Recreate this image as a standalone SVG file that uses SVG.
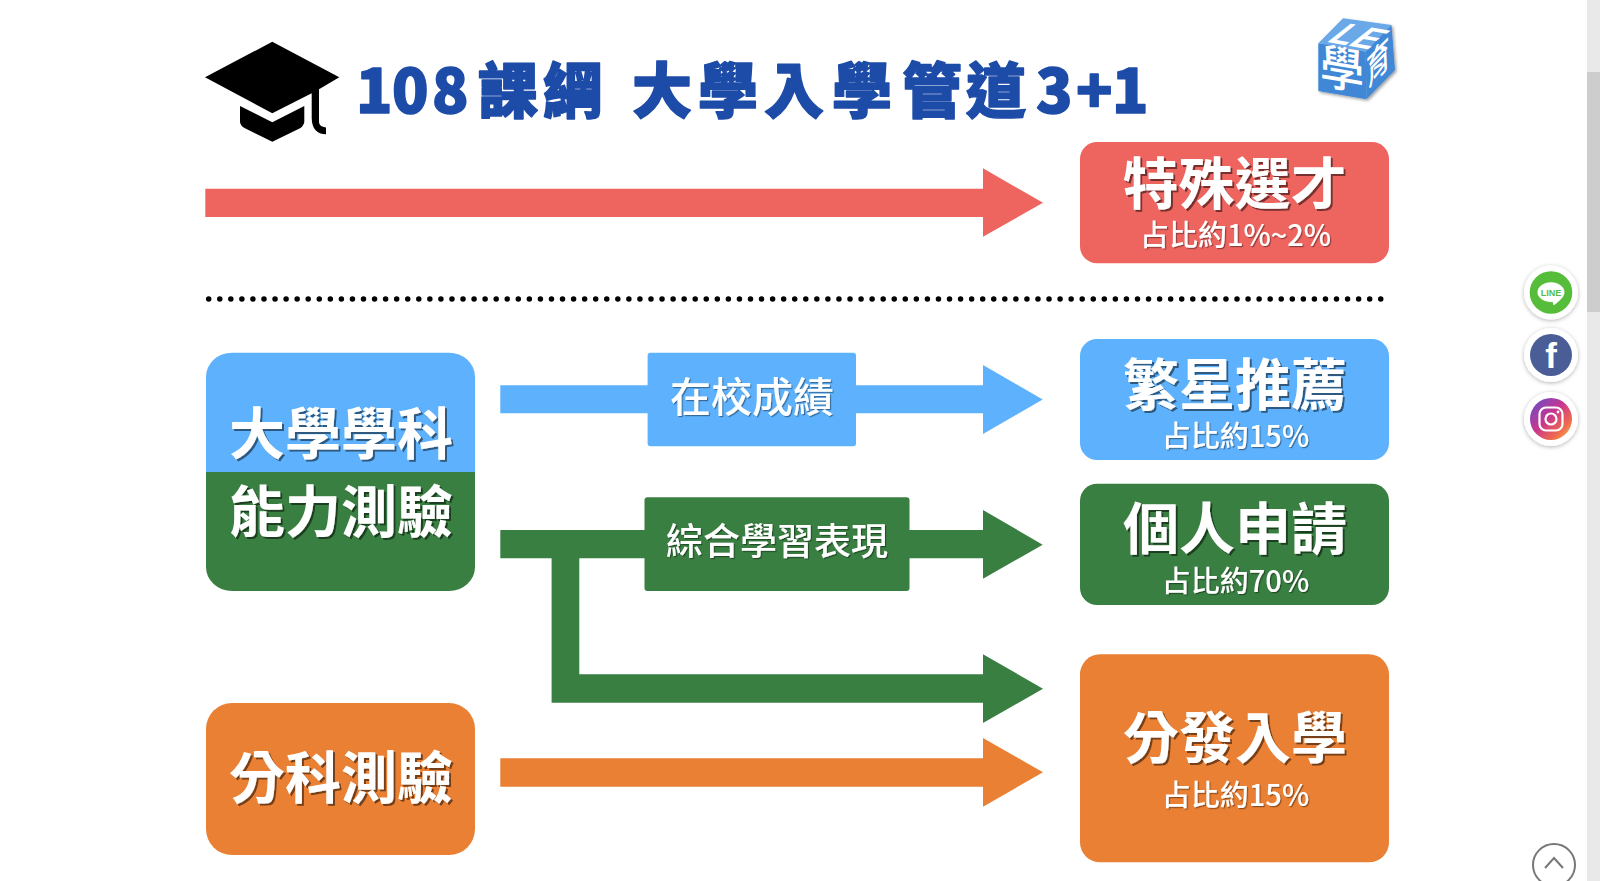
<svg xmlns="http://www.w3.org/2000/svg" width="1600" height="881" viewBox="0 0 1600 881">
<style>
text{font-family:"Noto Sans CJK TC","Noto Sans",sans-serif}
.big{font-size:56px;font-weight:700;fill:#fff;text-anchor:middle;filter:url(#ts)}
.sub{font-size:29px;font-weight:500;fill:#fff;text-anchor:middle;filter:url(#ts2)}
.lab{font-weight:500;fill:#fff;text-anchor:middle;filter:url(#ts2)}
.title{font-size:60px;font-weight:900;fill:#1d4ca8;stroke:#1d4ca8;stroke-width:1.5;stroke-linejoin:round}
.red{fill:#ee6560}.blue{fill:#5eb2fd}.green{fill:#3a7f42}.orange{fill:#ea8033}
.halo{fill:#fff;filter:url(#sh)}
</style>
<defs>
<filter id="ts" x="-5%" y="-10%" width="110%" height="125%"><feDropShadow dx="2" dy="2" stdDeviation="0.6" flood-color="#000" flood-opacity=".5"/></filter>
<filter id="ts2" x="-5%" y="-10%" width="110%" height="125%"><feDropShadow dx="1.2" dy="1.2" stdDeviation="0.5" flood-color="#000" flood-opacity=".4"/></filter>
<filter id="sh" x="-20%" y="-20%" width="140%" height="140%"><feDropShadow dx="0" dy="1" stdDeviation="2" flood-color="#000" flood-opacity=".3"/></filter>
<filter id="cube" x="-10%" y="-10%" width="125%" height="125%"><feDropShadow dx="1.500" dy="1.500" stdDeviation="1.500" flood-color="#000" flood-opacity=".4"/></filter>
<linearGradient id="ig" x1="0" y1="0" x2="1" y2="1"><stop offset="0" stop-color="#5a4fd0"/><stop offset=".45" stop-color="#c8368f"/><stop offset=".75" stop-color="#ee6a4c"/><stop offset="1" stop-color="#f6c25c"/></linearGradient>
<clipPath id="splitTop"><rect x="206" y="352" width="269" height="120"/></clipPath>
<clipPath id="splitBot"><rect x="206" y="472" width="269" height="120"/></clipPath>
</defs>
<rect width="1600" height="881" fill="#fff"/>

<g id="scrollbar">
<rect x="1587" y="0" width="13" height="881" fill="#e9e9e9"/>
<rect x="1587" y="72" width="13" height="240" fill="#cdcdcd"/>
</g>

<g id="hat" fill="#000">
<path d="M272.3 41.7L339.3 77.3L319 89.3V122Q319 126.5 326 127.5V134.3Q312 134 311.7 118V93.3L272.3 113.300L205 77.300Z"/>
<path d="M240 106L272.3 122.3L304.3 106V121.7Q304 125.5 300 128.3L272.3 141.7L245 128.3Q240 125.5 240 121.7Z"/>
</g>

<g id="title">
<text class="title" x="356 392 432 478 543 632 698 764 832 902 966 1036 1076 1112" y="113">108課綱大學入學管道3+1</text>
</g>

<g id="logo">
<g filter="url(#cube)">
<polygon points="1318.3,43.3 1343,18.300 1391.500,25 1365.700,51.700" fill="#6aa8e8"/>
<polygon points="1318.3,43.3 1365.700,51.700 1366.500,99.300 1318.300,91" fill="#3f87d6"/>
<polygon points="1365.700,51.700 1391.500,25 1395,70 1366.500,99.300" fill="#3f87d6"/>
</g>
<text transform="matrix(1.150,.2,-.89,.93,1327,42)" font-size="30" font-weight="700" font-style="italic" fill="#fff" style="font-family:'Liberation Sans',sans-serif">LE</text>
<text transform="matrix(1.050,.177,0,1.150,1320,83)" font-size="42" font-weight="500" fill="#fff">學</text>
<text transform="matrix(.78,-.8,.05,1.25,1367,88)" font-size="30" font-weight="500" fill="#fff">育</text>
</g>

<g id="connectors">
<polygon class="red" points="205.3,188.7 983,188.7 983,168.3 1043,202.8 983,236.7 983,217 205.3,217"/>
<line x1="208.7" y1="299" x2="1381" y2="299" stroke="#000" stroke-width="5.5" stroke-linecap="round" stroke-dasharray="0 11.057"/>
<polygon class="blue" points="500.3,385.3 983,385.3 983,365 1042.7,399.5 983,434 983,413.3 500.3,413.3"/>
<polygon class="green" points="500.3,530 983,530 983,510 1042.7,544.7 983,578.7 983,558.3 500.3,558.3"/>
<polygon class="green" points="551.6,558 579.3,558 579.3,674.3 983,674.3 983,654.3 1043,688.7 983,723 983,702.7 551.6,702.7"/>
<polygon class="orange" points="500.3,758.3 983,758.3 983,738 1043,772.3 983,806.7 983,786.7 500.3,786.7"/>
</g>

<g id="node-tesu">
<rect class="red" x="1080" y="142" width="309" height="121.3" rx="17" ry="17"/>
<text class="big" x="1234.5" y="204">特殊選才</text>
<text class="sub" x="1235.5" y="246">占比約1%~2%</text>
</g>

<g id="node-xuece">
<rect class="blue" x="206" y="352.7" width="269" height="238.3" rx="26" ry="24" clip-path="url(#splitTop)"/>
<rect class="green" x="206" y="352.7" width="269" height="238.3" rx="26" ry="24" clip-path="url(#splitBot)"/>
<text class="big" x="341" y="454">大學學科</text>
<text class="big" x="341" y="532">能力測驗</text>
</g>

<g id="node-fenke">
<rect class="orange" x="206" y="703" width="269" height="152" rx="26" ry="26"/>
<text class="big" x="341" y="798">分科測驗</text>
</g>

<g id="label-school">
<rect class="blue" x="647.6" y="352.7" width="208.4" height="93.6" rx="3"/>
<text class="lab" x="752" y="412" font-size="41">在校成績</text>
</g>

<g id="label-portfolio">
<rect class="green" x="644.5" y="497.3" width="265" height="93.7" rx="3"/>
<text class="lab" x="777" y="555" font-size="37">綜合學習表現</text>
</g>

<g id="node-fanxing">
<rect class="blue" x="1080" y="339" width="309" height="121" rx="17" ry="17"/>
<text class="big" x="1235" y="405">繁星推薦</text>
<text class="sub" x="1235.5" y="447">占比約15%</text>
</g>

<g id="node-geren">
<rect class="green" x="1080" y="483.7" width="309" height="121.3" rx="17" ry="17"/>
<text class="big" x="1235" y="549">個人申請</text>
<text class="sub" x="1235.5" y="592">占比約70%</text>
</g>

<g id="node-fenfa">
<rect class="orange" x="1080" y="654.3" width="309" height="208" rx="20" ry="20"/>
<text class="big" x="1235" y="758">分發入學</text>
<text class="sub" x="1235.5" y="806">占比約15%</text>
</g>

<g id="btn-line">
<circle class="halo" cx="1551" cy="292.500" r="27"/>
<circle cx="1551" cy="292.500" r="21.3" fill="#56bd3a"/>
<path d="M1551 282.300c7.5 0 13.5 4.5 13.5 10c0 5-5.5 9-10 12.5c-1.5 1-1.5-1-1.5-2.5c-8.5 0-15.5-4-15.5-10c0-5.500 6-10 13.500-10z" fill="#fff"/>
<text x="1551" y="295.800" font-size="9" font-weight="700" fill="#56bd3a" text-anchor="middle" style="font-family:'Liberation Sans',sans-serif">LINE</text>
</g>
<g id="btn-fb">
<circle class="halo" cx="1551" cy="355" r="27"/>
<circle cx="1551" cy="355" r="21" fill="#4a5d96"/>
<text x="1551" y="368" font-size="35" font-weight="700" fill="#fff" text-anchor="middle" style="font-family:'Liberation Sans',sans-serif">f</text>
</g>
<g id="btn-ig">
<circle class="halo" cx="1551" cy="419" r="27"/>
<circle cx="1551" cy="419" r="21" fill="url(#ig)"/>
<rect x="1539.500" y="407.500" width="23" height="23" rx="6.500" fill="none" stroke="#fff" stroke-width="2.200"/>
<circle cx="1551" cy="419" r="5.500" fill="none" stroke="#fff" stroke-width="2.200"/>
<circle cx="1558" cy="412" r="1.400" fill="#fff"/>
</g>
<g id="btn-top">
<circle cx="1554" cy="865" r="21" fill="#fff" stroke="#777" stroke-width="2"/>
<path d="M1545 868L1554 858L1563 868" fill="none" stroke="#777" stroke-width="2"/>
</g>
</svg>
